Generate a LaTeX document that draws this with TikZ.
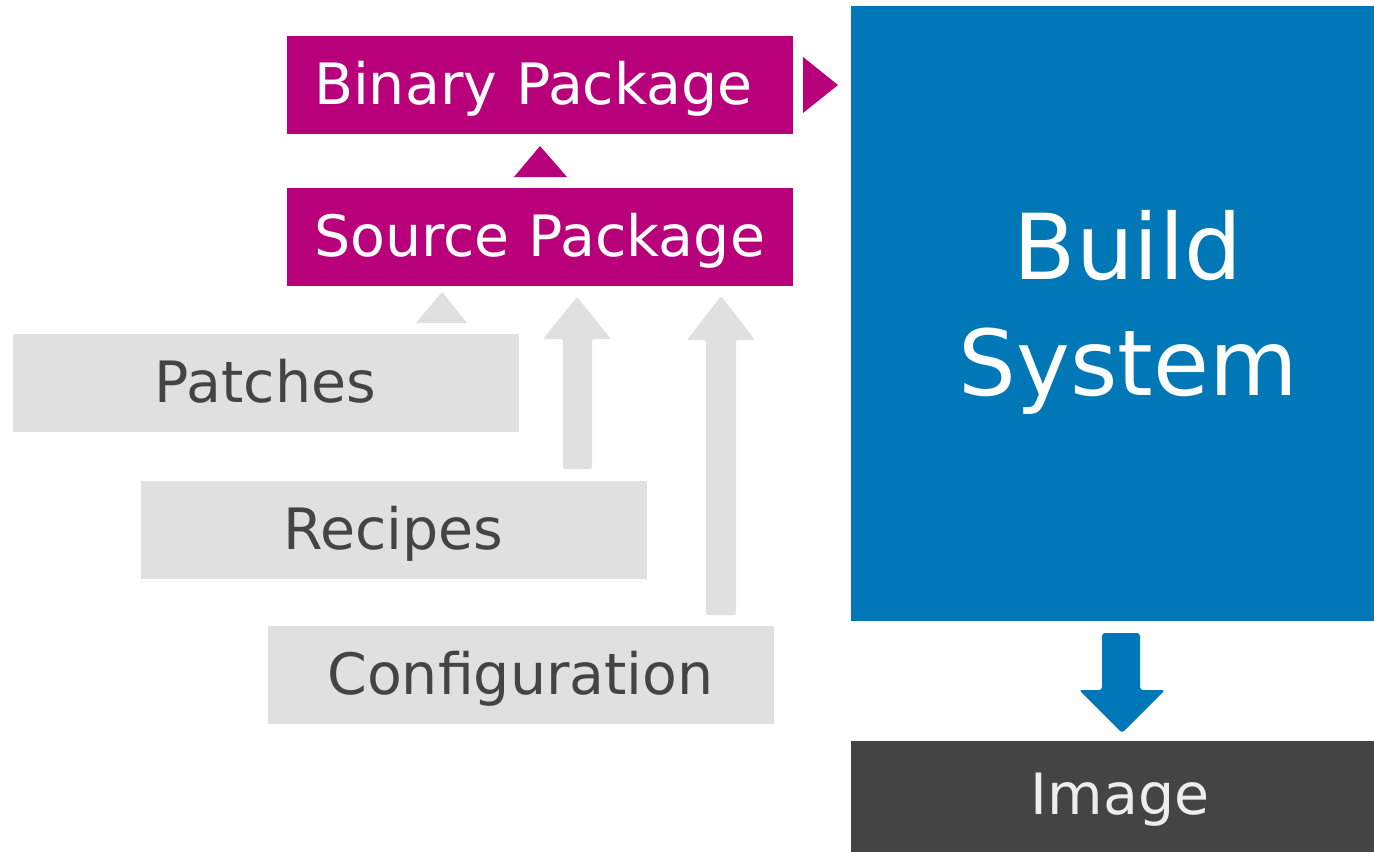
\documentclass[tikz,border=0pt]{standalone}
\usepackage{fontspec}
\setmainfont{DejaVu Sans}
\usepackage{tikz}

\definecolor{pkg}{HTML}{B7007A}
\definecolor{bsys}{HTML}{0078B7}
\definecolor{lgrey}{HTML}{E0E0E0}
\definecolor{dgrey}{HTML}{444444}

\tikzset{
	box/.style={minimum width=253pt, minimum height=49pt, inner sep=0pt, text depth=2pt,
		font=\fontsize{28.5}{32}\selectfont},
	pkgbox/.style={box, fill=pkg, text=white, text width=226pt, align=left},
	inbox/.style={box, fill=lgrey, text=dgrey},
}

\begin{document}
\begin{tikzpicture}[x=0.5pt, y=-0.5pt]
	\useasboundingbox (0, 0) rectangle (1374, 852);
	
	% packages
	\node [pkgbox] (binary) at (540, 85) {Binary Package};
	\node [pkgbox] (source) at (540, 237) {Source Package};
	
	% inputs
	\node [inbox] (patches) at (265.5, 383) {Patches};
	\node [inbox] (recipes) at (393.5, 529.5) {Recipes};
	\node [inbox] (config) at (520.5, 675) {Configuration};
	
	% build system and its output
	\node [fill=bsys, minimum width=261.5pt, minimum height=307.5pt, inner sep=0pt] (build) at (1112.5, 313.5) {};
	\node [text=white, align=center, font=\fontsize{45.5}{58}\selectfont] (buildtxt) at (1128, 312) {Build\\System};
	\node [fill=dgrey, minimum width=261.5pt, minimum height=55.5pt, inner sep=0pt] (image) at (1112.5, 796.5) {};
	\node [text=white!93!black, text depth=2pt, font=\fontsize{28.5}{32}\selectfont] (imagetxt) at (1120, 796) {Image};
	
	% small heads
	\fill [pkg] (514, 177) -- (540, 146) -- (567, 177) -- cycle;
	\fill [pkg] (803, 57) -- (838, 85) -- (803, 113) -- cycle;
	\fill [lgrey] (416, 323) -- (442, 292) -- (467, 323) -- cycle;
	
	% block arrows
	\fill [lgrey, rounded corners=1pt] (563, 469) -- (563, 339) -- (543, 339) -- (577, 297)
		-- (611, 339) -- (592, 339) -- (592, 469) -- cycle;
	\fill [lgrey, rounded corners=1pt] (706, 615) -- (706, 340) -- (687, 340) -- (721, 296)
		-- (755, 340) -- (736, 340) -- (736, 615) -- cycle;
	\fill [bsys, rounded corners=1.5pt] (1102, 633) -- (1102, 690) -- (1079, 690) -- (1122, 733)
		-- (1165, 690) -- (1140, 690) -- (1140, 633) -- cycle;
	
\end{tikzpicture}
\end{document}
